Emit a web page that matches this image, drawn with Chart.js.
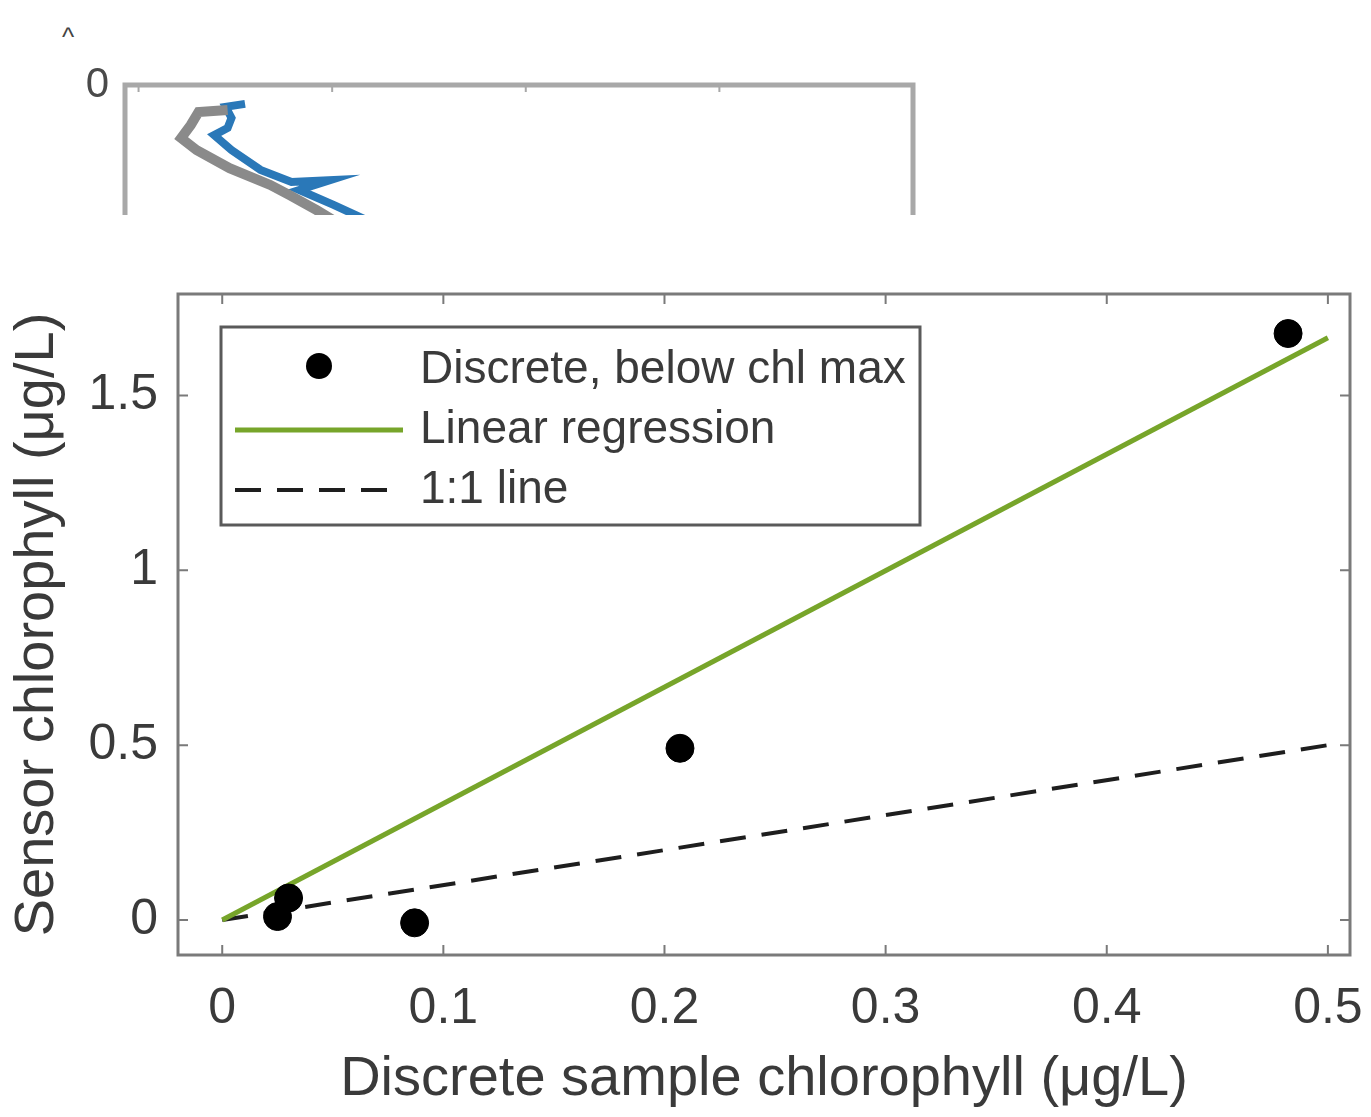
<!DOCTYPE html>
<html>
<head>
<meta charset="utf-8">
<title>Sensor vs discrete chlorophyll</title>
<script src="https://cdn.jsdelivr.net/npm/chart.js@4.4.1/dist/chart.umd.min.js"></script>
<style>
  html, body { margin: 0; padding: 0; background: #fff; }
  body { width: 1371px; height: 1117px; position: relative; overflow: hidden; font-family: "Liberation Sans", Arial, sans-serif; }
  #topWrap { position: absolute; left: 0; top: 0; width: 1371px; height: 215px; overflow: hidden; }
  #topChart { position: absolute; left: 0; top: 0; }
  #mainChart { position: absolute; left: 0; top: 230px; }
  #panelMark { position: absolute; left: 62px; top: 22px; font-size: 26px; color: #444; }
</style>
</head>
<body>
<div id="panelMark">^</div>
<div id="topWrap"><canvas id="topChart" width="1371" height="500"></canvas></div>
<canvas id="mainChart" width="1371" height="887"></canvas>

<script>
// Main panel data
const sampleChl = [0.025, 0.030, 0.087, 0.207, 0.482];
const sensorChl = [0.010, 0.063, -0.008, 0.491, 1.677];
const regX = [0, 0.5];
const regY = [0.0, 1.665];
const oneX = [0, 0.5];
const oneY = [0, 0.5];
const xTicks = [0, 0.1, 0.2, 0.3, 0.4, 0.5];
const yTicks = [0, 0.5, 1, 1.5];

// Top (cut-off) profile panel data
const blueX = [0.55, 0.45, 0.48, 0.46, 0.39, 0.48, 0.63, 0.79, 0.99, 0.83, 1.01, 1.20, 1.35];
const blueDepth = [0.63, 0.73, 1.10, 1.43, 1.67, 2.17, 2.83, 3.23, 3.17, 3.50, 4.00, 4.57, 5.17];
const grayX = [0.46, 0.31, 0.27, 0.22, 0.30, 0.47, 0.68, 0.78, 0.92, 1.09];
const grayDepth = [0.83, 0.90, 1.33, 1.77, 2.17, 2.77, 3.33, 3.67, 4.17, 4.83];
const topXTicks = [0, 1, 2, 3, 4];
const topYTicks = [0];

const TEXT = '#3a3a3a';
const FONT = '"Liberation Sans", Arial, sans-serif';

function toPoints(xs, ys) {
    return xs.map((v, i) => ({ x: v, y: ys[i] }));
}

// Box round the axes with inward tick marks
const axesBox = {
    id: 'axesBox',
    afterDatasetsDraw(chart, args, o) {
        const { ctx, chartArea: a, scales: { x, y } } = chart;
        ctx.save();
        ctx.strokeStyle = o.color;
        ctx.lineWidth = o.width;
        if (o.bottom) {
            ctx.strokeRect(a.left, a.top, a.right - a.left, a.bottom - a.top);
        } else {
            // bottom edge is cut off by the crop
            ctx.beginPath();
            ctx.moveTo(a.left, a.bottom);
            ctx.lineTo(a.left, a.top);
            ctx.lineTo(a.right, a.top);
            ctx.lineTo(a.right, a.bottom);
            ctx.stroke();
        }

        ctx.lineWidth = o.tickWidth;
        ctx.beginPath();
        o.xTicks.forEach(v => {
            const px = x.getPixelForValue(v);
            ctx.moveTo(px, a.top);
            ctx.lineTo(px, a.top + o.tickLen);
            if (o.bottom) {
                ctx.moveTo(px, a.bottom);
                ctx.lineTo(px, a.bottom - o.tickLen);
            }
        });
        o.yTicks.forEach(v => {
            const py = y.getPixelForValue(v);
            ctx.moveTo(a.left, py);
            ctx.lineTo(a.left + o.tickLen, py);
            ctx.moveTo(a.right, py);
            ctx.lineTo(a.right - o.tickLen, py);
        });
        ctx.stroke();
        ctx.restore();
    }
};

// Legend drawn inside the plot, with a frame
const boxLegend = {
    id: 'boxLegend',
    afterDraw(chart, args, o) {
        if (!o.show) return;
        const { ctx, chartArea: a } = chart;
        const bx = a.left + o.x, by = a.top + o.y;
        ctx.save();
        ctx.fillStyle = '#fff';
        ctx.fillRect(bx, by, o.w, o.h);
        ctx.strokeStyle = o.borderColor;
        ctx.lineWidth = o.borderWidth;
        ctx.strokeRect(bx, by, o.w, o.h);

        chart.data.datasets.forEach((ds, i) => {
            const cy = by + o.rowTop + i * o.rowGap;
            const s0 = bx + o.sampleLeft, s1 = bx + o.sampleRight;
            if (ds.type === 'scatter') {
                ctx.beginPath();
                ctx.arc((s0 + s1) / 2, cy - 4, ds.pointRadius - 1, 0, Math.PI * 2);
                ctx.fillStyle = ds.backgroundColor;
                ctx.fill();
            } else {
                ctx.setLineDash(ds.borderDash || []);
                ctx.strokeStyle = ds.borderColor;
                ctx.lineWidth = ds.borderWidth;
                ctx.beginPath();
                ctx.moveTo(s0, cy);
                ctx.lineTo(s1, cy);
                ctx.stroke();
                ctx.setLineDash([]);
            }
            ctx.fillStyle = o.color;
            ctx.font = o.font;
            ctx.textBaseline = 'middle';
            ctx.textAlign = 'left';
            ctx.fillText(ds.label, bx + o.textLeft, cy);
        });
        ctx.restore();
    }
};

// Top panel, cut off by the figure crop
new Chart(document.getElementById('topChart'), {
    type: 'line',
    data: {
        datasets: [
            {
                label: 'gray',
                data: toPoints(grayX, grayDepth),
                borderColor: '#8a8a8a',
                borderWidth: 10,
                pointRadius: 0,
                tension: 0
            },
            {
                label: 'blue',
                data: toPoints(blueX, blueDepth),
                borderColor: '#2a78b8',
                borderWidth: 8,
                pointRadius: 0,
                tension: 0
            }
        ]
    },
    options: {
        responsive: false,
        animation: false,
        devicePixelRatio: 1,
        layout: { padding: { left: 0, top: 85, right: 458, bottom: 15 } },
        scales: {
            x: {
                type: 'linear',
                position: 'top',
                min: -0.07,
                max: 4,
                grid: { display: false, drawTicks: false },
                border: { display: false },
                ticks: { display: false },
                afterFit: s => { s.height = 0; s.paddingLeft = 0; s.paddingRight = 0; }
            },
            y: {
                type: 'linear',
                reverse: true,
                min: 0,
                max: 13.33,
                grid: { display: false, drawTicks: false },
                border: { display: false },
                afterBuildTicks: s => { s.ticks = topYTicks.map(v => ({ value: v })); },
                ticks: {
                    color: '#4a4a4a',
                    font: { family: FONT, size: 42 },
                    padding: 16,
                    callback: v => String(v)
                },
                afterFit: s => { s.width = 125; s.paddingTop = 0; s.paddingBottom = 0; }
            }
        },
        plugins: {
            legend: { display: false },
            tooltip: { enabled: false },
            axesBox: { color: '#a8a8a8', width: 5, tickWidth: 2, tickLen: 7, bottom: false, xTicks: topXTicks, yTicks: [] },
            boxLegend: { show: false }
        }
    },
    plugins: [axesBox]
});

// Main scatter panel
new Chart(document.getElementById('mainChart'), {
    type: 'scatter',
    data: {
        datasets: [
            {
                type: 'scatter',
                label: 'Discrete, below chl max',
                data: toPoints(sampleChl, sensorChl),
                backgroundColor: '#000',
                borderColor: '#000',
                pointRadius: 14,
                pointHoverRadius: 14,
                order: 0
            },
            {
                type: 'line',
                label: 'Linear regression',
                data: toPoints(regX, regY),
                borderColor: '#77a52a',
                borderWidth: 5,
                pointRadius: 0,
                order: 1
            },
            {
                type: 'line',
                label: '1:1 line',
                data: toPoints(oneX, oneY),
                borderColor: '#1e1e1e',
                borderWidth: 4,
                borderDash: [26, 16],
                pointRadius: 0,
                order: 2
            }
        ]
    },
    options: {
        responsive: false,
        animation: false,
        devicePixelRatio: 1,
        layout: { padding: { left: 0, top: 64, right: 21, bottom: 0 } },
        scales: {
            x: {
                type: 'linear',
                min: -0.02,
                max: 0.51,
                grid: { display: false, drawTicks: false },
                border: { display: false },
                afterBuildTicks: s => { s.ticks = xTicks.map(v => ({ value: v })); },
                ticks: {
                    color: TEXT,
                    font: { family: FONT, size: 50 },
                    padding: 24,
                    maxRotation: 0,
                    callback: v => String(v)
                },
                title: {
                    display: true,
                    text: 'Discrete sample chlorophyll (\u03bcg/L)',
                    color: TEXT,
                    font: { family: FONT, size: 56 },
                    padding: { top: 0, bottom: 4 }
                },
                afterFit: s => { s.height = 162; s.paddingLeft = 0; s.paddingRight = 0; }
            },
            y: {
                type: 'linear',
                min: -0.1,
                max: 1.79,
                grid: { display: false, drawTicks: false },
                border: { display: false },
                afterBuildTicks: s => { s.ticks = yTicks.map(v => ({ value: v })); },
                ticks: {
                    color: TEXT,
                    font: { family: FONT, size: 50 },
                    padding: 20,
                    callback: v => String(v)
                },
                title: {
                    display: true,
                    text: 'Sensor chlorophyll (\u03bcg/L)',
                    color: TEXT,
                    font: { family: FONT, size: 56 },
                    padding: { top: 4, bottom: 0 }
                },
                afterFit: s => { s.width = 178; s.paddingTop = 0; s.paddingBottom = 0; }
            }
        },
        plugins: {
            legend: { display: false },
            tooltip: { enabled: false },
            axesBox: { color: '#7a7a7a', width: 3, tickWidth: 2, tickLen: 10, bottom: true, xTicks: xTicks, yTicks: yTicks },
            boxLegend: {
                show: true,
                x: 43, y: 33, w: 699, h: 198,
                borderColor: '#5a5a5a', borderWidth: 3,
                rowTop: 43, rowGap: 60,
                sampleLeft: 14, sampleRight: 182, textLeft: 199,
                color: TEXT,
                font: '46px ' + FONT
            }
        }
    },
    plugins: [axesBox, boxLegend]
});
</script>
</body>
</html>
